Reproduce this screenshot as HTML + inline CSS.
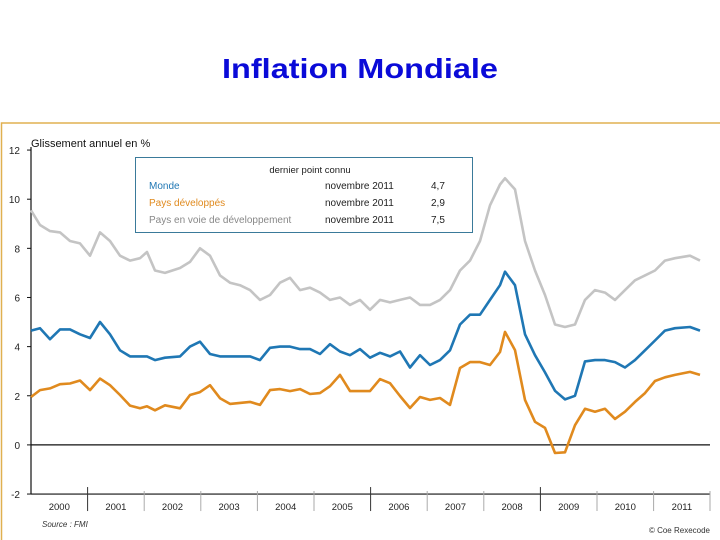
<!DOCTYPE html>
<html><head><meta charset="utf-8"><style>
html,body{margin:0;padding:0;background:#fff;}
svg{display:block;font-family:"Liberation Sans",sans-serif;}
</style></head><body>
<svg width="720" height="540" viewBox="0 0 720 540">
<text x="360" y="78" text-anchor="middle" font-size="28" font-weight="bold" fill="#0a0ad8" textLength="276" lengthAdjust="spacingAndGlyphs">Inflation Mondiale</text>
<rect x="1.5" y="123" width="740" height="430" fill="none" stroke="#e0b050" stroke-width="1.5"/>
<text x="31" y="147" font-size="11" fill="#111">Glissement annuel en %</text>
<g id="axes"></g>
<g id="series"></g>
<g>
<rect x="135.5" y="157.5" width="337" height="75" fill="#fff" stroke="#3a7a9a" stroke-width="1"/>
<text x="310" y="173" font-size="9.5" text-anchor="middle" fill="#222">dernier point connu</text>
<text x="149" y="189" font-size="10" fill="#1f77b4">Monde</text>
<text x="149" y="206" font-size="10" fill="#e08a1e">Pays développés</text>
<text x="149" y="223" font-size="10" fill="#888">Pays en voie de développement</text>
<text x="325" y="189" font-size="10" fill="#222">novembre 2011</text>
<text x="325" y="206" font-size="10" fill="#222">novembre 2011</text>
<text x="325" y="223" font-size="10" fill="#222">novembre 2011</text>
<text x="431" y="189" font-size="10" fill="#222">4,7</text>
<text x="431" y="206" font-size="10" fill="#222">2,9</text>
<text x="431" y="223" font-size="10" fill="#222">7,5</text>
</g>
<text x="42" y="527" font-size="8" font-style="italic" fill="#333">Source : FMI</text>
<text x="710" y="533" font-size="8" text-anchor="end" fill="#333">© Coe Rexecode</text>
</svg>
<script>
const yTicks=[12,10,8,6,4,2,0,-2];
const years=[2000,2001,2002,2003,2004,2005,2006,2007,2008,2009,2010,2011];
const px=[31,40,50,60,70,80,90,100,110,120,130,140,147,155,165,180,190,200,210,220,230,240,250,260,270,280,290,300,310,320,330,340,350,360,370,380,390,400,410,420,430,440,450,460,470,480,490,500,505,515,525,535,545,555,565,575,585,595,605,615,625,635,645,655,665,675,690,700];
const dates=px.map(p=>+(2000+(p-31)/56.6).toFixed(3));
const emergents=[9.55,8.95,8.7,8.65,8.3,8.2,7.7,8.65,8.3,7.7,7.5,7.6,7.85,7.1,7.0,7.2,7.45,8.0,7.7,6.9,6.6,6.5,6.3,5.9,6.1,6.6,6.8,6.3,6.4,6.2,5.9,6.0,5.7,5.9,5.5,5.9,5.8,5.9,6.0,5.7,5.7,5.9,6.3,7.1,7.5,8.3,9.75,10.6,10.85,10.4,8.3,7.1,6.1,4.9,4.8,4.9,5.9,6.3,6.2,5.9,6.3,6.7,6.9,7.1,7.5,7.6,7.7,7.5];
const monde=[4.65,4.75,4.3,4.7,4.7,4.5,4.35,5.0,4.5,3.85,3.6,3.6,3.6,3.45,3.55,3.6,4.0,4.2,3.7,3.6,3.6,3.6,3.6,3.45,3.95,4.0,4.0,3.9,3.9,3.7,4.1,3.8,3.65,3.9,3.55,3.75,3.6,3.8,3.15,3.65,3.25,3.45,3.85,4.9,5.3,5.3,5.9,6.5,7.05,6.5,4.5,3.65,2.95,2.2,1.85,2.0,3.4,3.45,3.45,3.37,3.15,3.45,3.85,4.25,4.65,4.75,4.8,4.65];
const developpes=[1.95,2.23,2.3,2.47,2.5,2.62,2.23,2.7,2.43,2.03,1.6,1.49,1.57,1.41,1.61,1.49,2.03,2.15,2.43,1.9,1.67,1.71,1.75,1.63,2.23,2.27,2.19,2.27,2.07,2.11,2.39,2.85,2.19,2.19,2.19,2.68,2.51,1.99,1.5,1.95,1.83,1.91,1.63,3.13,3.37,3.37,3.25,3.78,4.6,3.86,1.83,0.94,0.69,-0.33,-0.3,0.8,1.47,1.35,1.47,1.06,1.35,1.75,2.11,2.6,2.75,2.85,2.97,2.85];
const NS="http://www.w3.org/2000/svg";
function X(d){return 31+(d-2000)*56.6;}
function Y(v){return 444.9-v*24.57;}
function mk(tag,attrs,parent){const e=document.createElementNS(NS,tag);for(const k in attrs)e.setAttribute(k,attrs[k]);parent.appendChild(e);return e;}
const ax=document.getElementById('axes');
mk('line',{x1:31,y1:Y(12)-3,x2:31,y2:Y(-2),stroke:'#111','stroke-width':1.2},ax);
yTicks.forEach(t=>{
 const tk=mk('line',{x1:27,y1:Y(t),x2:31,y2:Y(t),stroke:'#111'},ax);
 
 
 const lb=mk('text',{x:20,y:Y(t)+4,'font-size':10,'text-anchor':'end',fill:'#222'},ax);
 lb.textContent=t;
 
 
});
const z=mk('line',{x1:31,y1:Y(0),x2:710,y2:Y(0),stroke:'#111','stroke-width':1.2},ax);


const b=mk('line',{x1:31,y1:Y(-2),x2:710,y2:Y(-2),stroke:'#111','stroke-width':1.2},ax);


years.forEach((yr,i)=>{
 if(i>0){const big=[2001,2006,2009].includes(yr);
  const s=mk('line',{x1:X(yr),y1:big?Y(-2)-7:Y(-2)-3,x2:X(yr),y2:Y(-2)+17,stroke:big?'#333':'#aaa'},ax);
  
  }
 const lb=mk('text',{x:X(yr+0.5),y:Y(-2)+16,'font-size':9.5,'text-anchor':'middle',fill:'#222'},ax);
 lb.textContent=yr;
 
 
});
mk('line',{x1:710,y1:Y(-2)-3,x2:710,y2:Y(-2)+17,stroke:'#aaa'},ax);
const sg=document.getElementById('series');
[[emergents,'#c4c4c4','line-emergents'],[monde,'#1f77b4','line-monde'],[developpes,'#e08a1e','line-developpes']].forEach(([vals,col,name])=>{
 const d=vals.map((v,i)=>(i?'L':'M')+X(dates[i]).toFixed(1)+','+Y(v).toFixed(1)).join('');
 const p=mk('path',{d:d,fill:'none',stroke:col,'stroke-width':2.6,'stroke-linejoin':'round'},sg);
 
 
});
</script>
</body></html>
